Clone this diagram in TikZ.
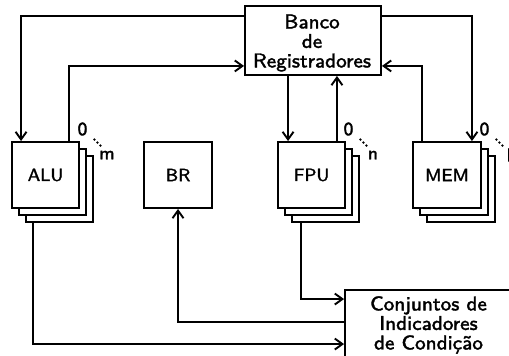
\documentclass[tikz,border=0pt]{standalone}
\usepackage{fontspec}
\newfontfamily\diagsf{lmsans8-regular.otf}[FakeBold=1.7]
\usetikzlibrary{shadows,arrows.meta}
\def\pxu{0.42pt}
\begin{document}
\begin{tikzpicture}[x=0.42pt,y=-0.42pt, line width=0.8pt,
  >={Straight Barb[length=3.2pt,width=4.6pt]},
  bigtext/.style={font=\diagsf\fontsize{8.4}{8.2}\selectfont, align=center},
  unitbox/.style={draw, fill=white, inner sep=0pt, minimum width=67*\pxu,
    minimum height=66*\pxu, font=\diagsf\fontsize{7.4}{8}\selectfont},
  stackbox/.style={unitbox, double copy shadow={shadow xshift=7*\pxu, shadow yshift=-7*\pxu}},
  idxlbl/.style={font=\diagsf\fontsize{7.8}{8}\selectfont, inner sep=0pt},
  idxdot/.style={fill=black}
]
\useasboundingbox (0,0) rectangle (509,356);

% nodes
\node[draw, minimum width=136*\pxu, minimum height=69*\pxu, inner sep=0pt] (bank) at (313,40.5) {};
\node[bigtext, inner sep=0pt] (banktext) at (312,43) {Banco\\de\\Registradores};
\node[stackbox] (alu) at (45.5,175) {ALU};
\node[unitbox, minimum width=68*\pxu] (br) at (178,175) {BR};
\node[stackbox] (fpu) at (311.5,175) {FPU};
\node[stackbox, minimum width=68*\pxu] (mem) at (447,175) {MEM};
\node[draw, bigtext, minimum width=167*\pxu, minimum height=70*\pxu, inner sep=0pt] (flags) at (428.5,325) {Conjuntos de\\Indicadores\\de Condição};

% index labels
\foreach \n/\l in {alu/m, fpu/n, mem/l}{
  \node[idxlbl] (\n-zero) at ([xshift=2.5*\pxu, yshift=12*\pxu]\n.north east) {0};
  \node[idxlbl] (\n-last) at ([xshift=27*\pxu, yshift=-14*\pxu]\n.north east) {\l};
  \fill[idxdot] ([xshift=14.5*\pxu, yshift=1.5*\pxu]\n.north east) circle (1.3*\pxu);
  \fill[idxdot] ([xshift=17.5*\pxu, yshift=-1.5*\pxu]\n.north east) circle (1.3*\pxu);
  \fill[idxdot] ([xshift=20.5*\pxu, yshift=-4.5*\pxu]\n.north east) circle (1.3*\pxu);
}

% helper coordinates
\coordinate (aluIn)  at ([xshift=10*\pxu]alu.north west);
\coordinate (aluOut) at ([xshift=-11*\pxu]alu.north east);
\coordinate (memIn)  at ([xshift=-10*\pxu]mem.north east);
\coordinate (memOut) at ([xshift=10*\pxu]mem.north west);
\coordinate (fpuIn)  at ([xshift=11*\pxu]fpu.north west);
\coordinate (fpuOut) at ([xshift=-9*\pxu]fpu.north east);
\coordinate (fpuBot) at ([xshift=24*\pxu, yshift=-14*\pxu]fpu.south west);
\coordinate (aluBot) at ([xshift=22*\pxu, yshift=-14*\pxu]alu.south west);

% connectors
\draw[->] ([yshift=-11*\pxu]bank.north west) -| (aluIn);
\draw[->] (aluOut) |- ([yshift=10*\pxu]bank.south west);
\draw[->] ([yshift=-11*\pxu]bank.north east) -| (memIn);
\draw[->] (memOut) |- ([yshift=10*\pxu]bank.south east);
\draw[->] (fpuIn |- bank.south) -- (fpuIn);
\draw[->] (fpuOut) -- (fpuOut |- bank.south);
\draw[->] (fpuBot) |- ([yshift=-10*\pxu]flags.north west);
\draw[->] ([yshift=-33*\pxu]flags.north west) -| (br.south);
\draw[->] (aluBot) |- ([yshift=-55*\pxu]flags.north west);
\end{tikzpicture}
\end{document}
